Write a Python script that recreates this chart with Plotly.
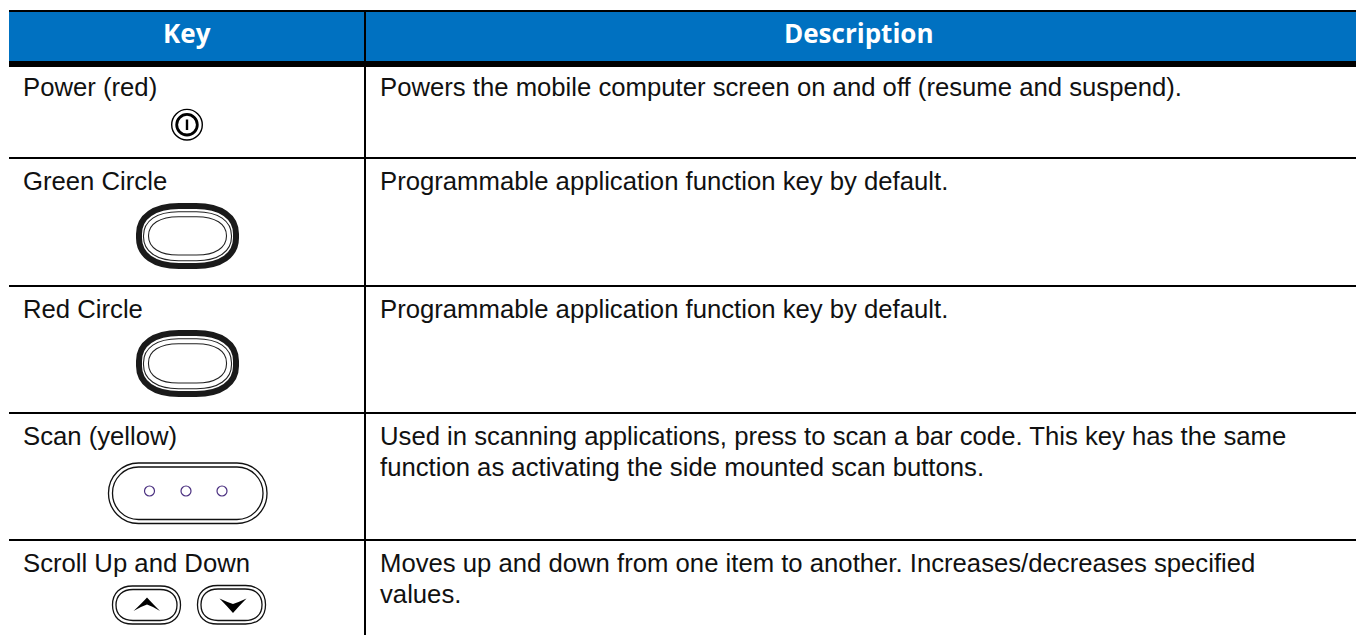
import plotly.graph_objects as go

WIDTH, HEIGHT = 1356, 635

# Table content
headers = ["Key", "Description"]
keys = ["Power (red)", "Green Circle", "Red Circle", "Scan (yellow)", "Scroll Up and Down"]
descriptions = [
    ["Powers the mobile computer screen on and off (resume and suspend)."],
    ["Programmable application function key by default."],
    ["Programmable application function key by default."],
    ["Used in scanning applications, press to scan a bar code. This key has the same",
     "function as activating the side mounted scan buttons."],
    ["Moves up and down from one item to another. Increases/decreases specified",
     "values."],
]

# Table geometry
table_left = 9
table_right = 1356
column_split = 365
header_top = 10.5
header_bottom = 61
header_rule_bottom = 67
row_rules = [158, 286, 413, 540]
text_rows = [87, 181, 309, 436, 563]
line_step = 31
key_x = 22
desc_x = 379
header_y = 33
header_x = [187, 859]

BLUE = "#0071c1"
FONT = "Liberation Sans"
HEAD_FONT = "Open Sans"

shapes = []


def rect(x0, y0, x1, y1, fill):
    shapes.append(dict(type="rect", x0=x0, y0=y0, x1=x1, y1=y1,
                       fillcolor=fill, line=dict(width=0), layer="above"))


def line(x0, y0, x1, y1, width, color="#000"):
    shapes.append(dict(type="line", x0=x0, y0=y0, x1=x1, y1=y1,
                       line=dict(width=width, color=color), layer="above"))


def circle(cx, cy, r, width, color="#000", fill="rgba(0,0,0,0)"):
    shapes.append(dict(type="circle", x0=cx - r, y0=cy - r, x1=cx + r, y1=cy + r,
                       fillcolor=fill, line=dict(width=width, color=color), layer="above"))


def rounded(x0, y0, x1, y1, rx, ry, width, color="#111", k=0.62):
    """Closed rounded outline with soft, squircle-like corners."""
    cx, cy = rx * (1 - k), ry * (1 - k)
    p = (f"M {x0 + rx} {y0} L {x1 - rx} {y0} "
         f"C {x1 - cx} {y0} {x1} {y0 + cy} {x1} {y0 + ry} "
         f"L {x1} {y1 - ry} "
         f"C {x1} {y1 - cy} {x1 - cx} {y1} {x1 - rx} {y1} "
         f"L {x0 + rx} {y1} "
         f"C {x0 + cx} {y1} {x0} {y1 - cy} {x0} {y1 - ry} "
         f"L {x0} {y0 + ry} "
         f"C {x0} {y0 + cy} {x0 + cx} {y0} {x0 + rx} {y0} Z")
    shapes.append(dict(type="path", path=p, line=dict(width=width, color=color),
                       fillcolor="rgba(0,0,0,0)", layer="above"))


def filled(path):
    shapes.append(dict(type="path", path=path, line=dict(width=0),
                       fillcolor="#000", layer="above"))


# Header band and rules
rect(table_left, header_top, table_right, header_bottom, BLUE)
rect(table_left, header_rule_bottom - 6, table_right, header_rule_bottom, "#000")
rect(table_left, 10, table_right, 12, "#000")
line(column_split, 12, column_split, HEIGHT, 2)
for y in row_rules:
    line(table_left, y, table_right, y, 2)

# Power icon
circle(187, 124.7, 15.3, 1.4)
circle(187, 124.7, 10.3, 2.8)
line(187, 119.5, 187, 130, 2.4)


# Large oval keys
def oval_key(y0, y1):
    rounded(139, y0 + 3, 236, y1 - 3, 40, 28, 6, "#1a1a1a")
    rounded(143.5, y0 + 8.7, 231.5, y1 - 8.3, 35, 24, 1.1, "#222")
    rounded(148.5, y0 + 13.7, 226.5, y1 - 14, 30, 19, 1.1, "#222")


oval_key(203, 269)
oval_key(330, 397)

# Scan key
rounded(108.5, 463, 267, 523.5, 30, 30, 1.3, k=0.55)
rounded(112.5, 467, 263, 519.5, 26, 26, 1.3, k=0.55)
for x in [149.5, 186, 222]:
    circle(x, 491, 5, 1.2, "#4b3080")


# Scroll keys
def scroll_key(x0, y0, x1, y1):
    rounded(x0, y0, x1, y1, 20, 19, 1.3)
    rounded(x0 + 3.5, y0 + 3.5, x1 - 3.5, y1 - 3.5, 17, 15.5, 1.3)


scroll_key(112.5, 586, 180.5, 624)
scroll_key(197.5, 585.5, 265.5, 624)
filled("M 133.5 611 Q 142 603 147 597.5 Q 152 603 160 611 Q 153 606.5 147 604.5 Q 141 606.5 133.5 611 Z")
filled("M 219.5 598.5 Q 227 602 233 604 Q 239 602 246.5 598.5 Q 239 606 233 613 Q 227 606 219.5 598.5 Z")

annotations = []


def label(x, y, text, anchor="left", size=25.7, family=FONT, color="#111", bold=False):
    annotations.append(dict(
        x=x, y=y, text=f"<b>{text}</b>" if bold else text, showarrow=False,
        xanchor=anchor, yanchor="middle", xref="x", yref="y", align=anchor,
        borderpad=0, font=dict(size=size, family=family, color=color)))


for hx, h in zip(header_x, headers):
    label(hx, header_y, h, "center", 26, HEAD_FONT, "#fff", True)
for y, k, d in zip(text_rows, keys, descriptions):
    label(key_x, y, k)
    for i, t in enumerate(d):
        label(desc_x, y + i * line_step, t)

fig = go.Figure()
fig.add_trace(go.Scatter(x=[0, WIDTH], y=[0, HEIGHT], mode="markers",
                         marker=dict(opacity=0), hoverinfo="skip", showlegend=False))
fig.update_layout(
    width=WIDTH, height=HEIGHT,
    margin=dict(l=0, r=0, t=0, b=0),
    paper_bgcolor="#fff", plot_bgcolor="#fff",
    shapes=shapes, annotations=annotations,
    xaxis=dict(range=[0, WIDTH], visible=False, fixedrange=True),
    yaxis=dict(range=[HEIGHT, 0], visible=False, fixedrange=True),
)
fig.write_html("out.html", config=dict(displayModeBar=False),
               post_script="document.body.style.margin='0';document.body.style.overflow='hidden';")
